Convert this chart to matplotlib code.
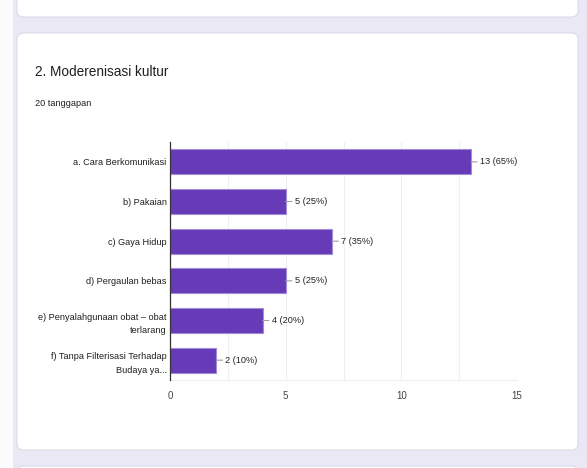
import matplotlib.pyplot as plt
from matplotlib.patches import FancyBboxPatch, Rectangle
from matplotlib.ticker import MultipleLocator

W, H = 587, 468

title = "2. Moderenisasi kultur"
subtitle = "20 tanggapan"
categories = [
    "a. Cara Berkomunikasi",
    "b) Pakaian",
    "c) Gaya Hidup",
    "d) Pergaulan bebas",
    "e) Penyalahgunaan obat \u2013 obat\nterlarang",
    "f) Tanpa Filterisasi Terhadap\nBudaya ya...",
]
counts = [13, 5, 7, 5, 4, 2]
total = 20
xticks = [0, 5, 10, 15]

plt.rcParams["font.family"] = ["Liberation Sans", "DejaVu Sans"]

fig = plt.figure(figsize=(W / 100, H / 100), dpi=100)
fig.patch.set_facecolor("#ebe8f5")


def px(x, y):
    # pixel coords (top-left origin) -> figure fraction
    return x / W, 1 - y / H


def card(x0, y0, x1, y1):
    fx0, fy1 = px(x0, y0)
    fx1, fy0 = px(x1, y1)
    p = FancyBboxPatch((fx0, fy0), fx1 - fx0, fy1 - fy0,
                       boxstyle="round,pad=0,rounding_size=0.012",
                       transform=fig.transFigure, facecolor="white",
                       edgecolor="#dcdae6", linewidth=0.8, zorder=-5)
    fig.patches.append(p)


# white page edge on the left
fig.patches.append(Rectangle((0, 0), 13 / W, 1, transform=fig.transFigure,
                             facecolor="#fbfbfe", edgecolor="none", zorder=-6))

# cards: previous (cut off), current, next (cut off)
card(17, -30, 578, 17)
card(17, 33, 578, 450)
card(17, 466, 578, 520)

fig.text(*px(35, 72), title, fontsize=9.8, color="#1f1f1f", va="center")
fig.text(*px(35, 103), subtitle, fontsize=6.6, color="#1f1f1f", va="center")

x0, y0 = px(170, 380)
x1, y1 = px(517, 142)
ax = fig.add_axes([x0, y0, x1 - x0, y1 - y0], zorder=2)
ax.set_facecolor("white")

pos = list(range(len(categories)))
ax.barh(pos, counts, height=0.63, color="#673ab7",
        edgecolor="#a18ad6", linewidth=0.8, zorder=3)

for i, v in enumerate(counts):
    ax.annotate(f"{v} ({v / total:.0%})", xy=(v, i), xytext=(6.5, 0),
                textcoords="offset points", ha="left", va="center",
                fontsize=6.6, color="#222222",
                arrowprops=dict(arrowstyle="-", color="#9e9e9e", lw=0.8,
                                shrinkA=0, shrinkB=0))

ax.set_xlim(0, 15)
ax.set_ylim(len(categories) - 0.5, -0.5)
ax.set_xticks(xticks)
ax.xaxis.set_minor_locator(MultipleLocator(2.5))
ax.set_yticks(pos)
ax.set_yticklabels(categories, fontsize=6.6, color="#1f1f1f",
                   linespacing=1.7)
ax.tick_params(axis="y", length=0, pad=2.5)
ax.tick_params(axis="x", which="both", length=0, pad=8,
               labelsize=7, labelcolor="#444444")
ax.grid(axis="x", which="both", color="#eeeeee", linewidth=0.8, zorder=0)

for s in ["top", "right"]:
    ax.spines[s].set_visible(False)
ax.spines["bottom"].set_color("#eeeeee")
ax.spines["left"].set_color("#333333")
ax.spines["left"].set_linewidth(0.9)
ax.spines["left"].set_zorder(4)

fig.savefig("out.png", dpi=100, facecolor=fig.get_facecolor())
